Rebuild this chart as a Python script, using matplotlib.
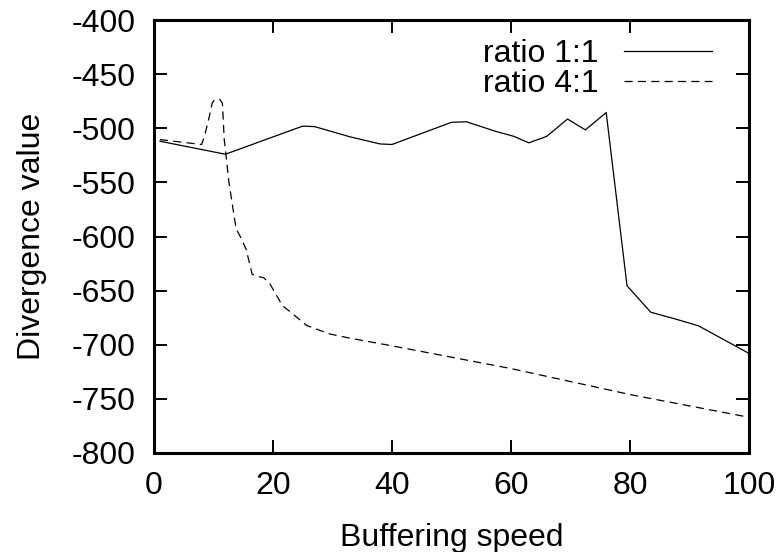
import matplotlib
matplotlib.use("Agg")
import matplotlib.pyplot as plt

plt.rcParams['font.family'] = ['Liberation Sans', 'DejaVu Sans']

x_11 = [1, 12, 25, 27, 33, 38, 40, 50, 52.5, 57.5, 60.5, 63, 66, 69.5, 72.5, 76, 79.5, 83.5, 87.5, 91.5, 96, 100]
y_11 = [-512, -524, -498, -498.5, -508, -514.5, -515, -494.5, -494, -503, -507.5, -513.5, -507.5, -491.5, -501.5, -485.5, -645.5, -670, -676, -682.5, -696, -708]

x_41 = [1, 8, 8.5, 9.3, 9.8, 10.2, 11.1, 11.5, 11.8, 12.6, 13.8, 14.5, 15.5, 16.5, 17.5, 18.4, 19.4, 21.6, 23, 25.6, 29.5, 33, 40, 50, 60, 70, 80, 90, 100]
y_41 = [-510.5, -515, -507, -489, -476.5, -473.5, -473.5, -477, -510, -550, -593, -600, -612, -635, -637, -638, -643, -664, -670, -682, -690, -694, -701, -711.5, -722, -734, -746, -756.5, -767]

xticks = [0, 20, 40, 60, 80, 100]
yticks = [-800, -750, -700, -650, -600, -550, -500, -450, -400]

fig = plt.figure(figsize=(7.81, 5.52), dpi=100)
ax = fig.add_axes([154/781, 1 - 453/552, (749 - 154)/781, (453 - 20)/552])

ax.plot(x_11, y_11, color='black', lw=0.9, label='ratio 1:1')
ax.plot(x_41, y_41, color='black', lw=0.9, ls=(0, (6.5, 4.2)), label='ratio 4:1')

ax.set_xlim(0, 100)
ax.set_ylim(-800, -400)
ax.set_xticks(xticks)
ax.set_yticks(yticks)
ax.set_xticklabels([str(v) for v in xticks])
ax.set_yticklabels([str(v) for v in yticks])

fs = 23
for s in ax.spines.values():
    s.set_linewidth(2.2)
ax.tick_params(direction='in', length=9.5, width=1.4, top=True, right=True, labelsize=fs)
ax.tick_params(axis='x', pad=13)
ax.tick_params(axis='y', pad=13)

ax.set_xlabel('Buffering speed', fontsize=fs, labelpad=16)
ax.set_ylabel('Divergence value', fontsize=fs, labelpad=18)

leg = ax.legend(loc='upper right', bbox_to_anchor=((712 - 154)/595, 1 - 19/433), frameon=False,
                markerfirst=False, fontsize=fs, handlelength=2.75, handletextpad=0.8,
                borderpad=0, borderaxespad=0, labelspacing=0.0)

fig.savefig('out.png', dpi=100)
